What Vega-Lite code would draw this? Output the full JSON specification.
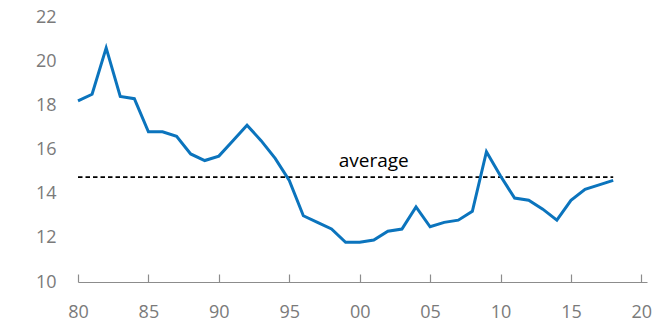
{
  "$schema": "https://vega.github.io/schema/vega-lite/v6.json",
  "autosize": {"type": "none"},
  "padding": {"left": 78, "top": 17, "right": 16, "bottom": 40},
  "width": 569,
  "height": 265,
  "background": "white",
  "config": {
    "view": {"stroke": null},
    "font": "Open Sans"
  },
  "datasets": {
    "series": [
      {"year": 1980, "value": 18.2},
      {"year": 1981, "value": 18.5},
      {"year": 1982, "value": 20.6},
      {"year": 1983, "value": 18.4},
      {"year": 1984, "value": 18.3},
      {"year": 1985, "value": 16.8},
      {"year": 1986, "value": 16.8},
      {"year": 1987, "value": 16.6},
      {"year": 1988, "value": 15.8},
      {"year": 1989, "value": 15.5},
      {"year": 1990, "value": 15.7},
      {"year": 1991, "value": 16.4},
      {"year": 1992, "value": 17.1},
      {"year": 1993, "value": 16.4},
      {"year": 1994, "value": 15.6},
      {"year": 1995, "value": 14.6},
      {"year": 1996, "value": 13.0},
      {"year": 1997, "value": 12.7},
      {"year": 1998, "value": 12.4},
      {"year": 1999, "value": 11.8},
      {"year": 2000, "value": 11.8},
      {"year": 2001, "value": 11.9},
      {"year": 2002, "value": 12.3},
      {"year": 2003, "value": 12.4},
      {"year": 2004, "value": 13.4},
      {"year": 2005, "value": 12.5},
      {"year": 2006, "value": 12.7},
      {"year": 2007, "value": 12.8},
      {"year": 2008, "value": 13.2},
      {"year": 2009, "value": 15.9},
      {"year": 2010, "value": 14.8},
      {"year": 2011, "value": 13.8},
      {"year": 2012, "value": 13.7},
      {"year": 2013, "value": 13.3},
      {"year": 2014, "value": 12.8},
      {"year": 2015, "value": 13.7},
      {"year": 2016, "value": 14.2},
      {"year": 2017, "value": 14.4},
      {"year": 2018, "value": 14.6}
    ],
    "avg": [
      {"year": 1980, "value": 14.75},
      {"year": 2018, "value": 14.75}
    ],
    "label": [
      {"year": 2001, "value": 15.23, "text": "average"}
    ]
  },
  "layer": [
    {
      "data": {"name": "avg"},
      "mark": {"type": "line", "color": "black", "strokeWidth": 1.6, "strokeDash": [4.5, 3]},
      "encoding": {
        "x": {
          "field": "year", "type": "quantitative",
          "scale": {"domain": [1980, 2020.4], "nice": false, "zero": false},
          "axis": {
            "values": [1980, 1985, 1990, 1995, 2000, 2005, 2010, 2015, 2020],
            "labelExpr": "substring(toString(datum.value), 2, 4)",
            "title": null,
            "grid": false,
            "domainColor": "#8c8c8c",
            "domainWidth": 1.2,
            "tickColor": "#8c8c8c",
            "tickWidth": 1.2,
            "tickSize": -8,
            "labelPadding": 29,
            "labelFontSize": 18,
            "labelColor": "#7a7a7a",
            "labelBaseline": "top",
            "labelFlush": false
          }
        },
        "y": {
          "field": "value", "type": "quantitative",
          "scale": {"domain": [10, 22], "nice": false, "zero": false},
          "axis": {
            "values": [10, 12, 14, 16, 18, 20, 22],
            "title": null,
            "grid": false,
            "domain": false,
            "ticks": false,
            "labelPadding": 22,
            "labelFontSize": 18,
            "labelColor": "#7a7a7a"
          }
        }
      }
    },
    {
      "data": {"name": "series"},
      "mark": {"type": "line", "color": "#0b74bd", "strokeWidth": 3},
      "encoding": {
        "x": {"field": "year", "type": "quantitative"},
        "y": {"field": "value", "type": "quantitative"}
      }
    },
    {
      "data": {"name": "label"},
      "mark": {"type": "text", "fontSize": 19, "color": "black", "baseline": "alphabetic", "align": "center"},
      "encoding": {
        "x": {"field": "year", "type": "quantitative"},
        "y": {"field": "value", "type": "quantitative"},
        "text": {"field": "text"}
      }
    }
  ]
}
